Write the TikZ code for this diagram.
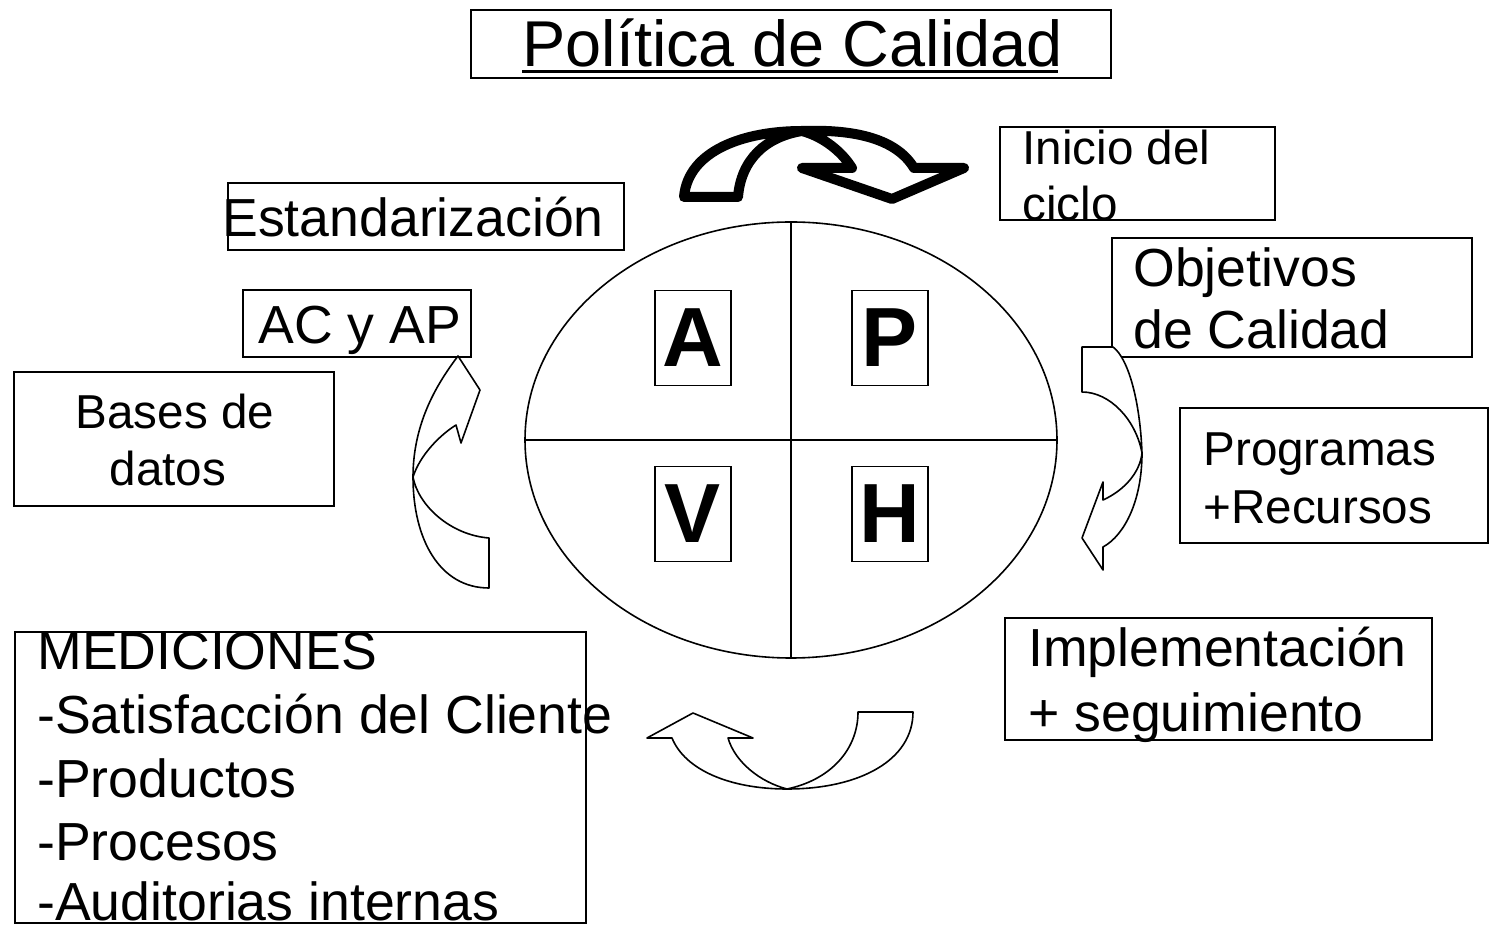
\documentclass[tikz,border=0pt]{standalone}
\usepackage{fontspec}
\setmainfont{Liberation Sans}
\usetikzlibrary{fit,shapes.geometric}
\begin{document}
\begin{tikzpicture}[x=0.5pt,y=-0.5pt,
  box/.style={draw, line width=0.9pt, inner sep=0pt},
  txt/.style={inner sep=0pt, anchor=base west},
  txtc/.style={inner sep=0pt, anchor=base},
  fs/.style={font=\fontsize{23.8}{28}\selectfont},
  fm/.style={font=\fontsize{26.8}{32}\selectfont},
  lbox/.style={draw, line width=0.9pt, inner sep=0pt, minimum width=38pt, minimum height=47.5pt, font=\fontsize{42}{42}\selectfont\bfseries},
  arr/.style={draw, line width=0.8pt, fill=white, line join=round},
  bigarr/.style={draw, line width=5pt, fill=white, line join=round}]
\useasboundingbox (0,0) rectangle (1489,929);

% title
\node[box, fit={(471,10)(1111,78)}] (titlebox) {};
\node[txt, font=\fontsize{32.4}{36}\selectfont] (title) at (522,67) {Política de Calidad};
\draw[line width=1.5pt] (title.base west) ++(0,5) -- ++(536,0);

% cycle
\node[draw, ellipse, line width=0.8pt, minimum width=266pt, minimum height=218pt, inner sep=0pt] (cyc) at (791,440) {};
\draw[line width=0.8pt] (cyc.north) -- (cyc.south);
\draw[line width=0.8pt] (cyc.west) -- (cyc.east);
\node[lbox] (A) at (693,338) {A};
\node[lbox] (P) at (890,338) {P};
\node[lbox] (V) at (693,514) {V};
\node[lbox] (H) at (890,514) {H};

% left side boxes
\node[box, fit={(228,183)(624,250)}] (estbox) {};
\node[txt, fm] (est) at (222,237) {Estandarización};
\node[box, fit={(243,290)(471,357)}] (acbox) {};
\node[txt, fm] (ac) at (258,344) {AC y AP};
\node[box, fit={(14,372)(334,506)}] (basbox) {};
\node[txtc, fs] (bas1) at (175,429) {Bases de};
\node[txtc, fs] (bas2) at (168,486) {datos};
\node[box, fit={(15,632)(586,923)}] (medbox) {};
\node[txt, fm] (med1) at (37,670) {MEDICIONES};
\node[txt, fm] (med2) at (37,734) {-Satisfacción del Cliente};
\node[txt, fm] (med3) at (37,798) {-Productos};
\node[txt, fm] (med4) at (37,861) {-Procesos};
\node[txt, fm] (med5) at (37,921) {-Auditorias internas};

% right side boxes
\node[box, fit={(1000,127)(1275,220)}] (inibox) {};
\node[txt, fs] (ini1) at (1022,165) {Inicio del};
\node[txt, fs] (ini2) at (1022,221) {ciclo};
\node[box, fit={(1112,238)(1472,357)}] (objbox) {};
\node[txt, fm] (obj1) at (1133,287) {Objetivos};
\node[txt, fm] (obj2) at (1133,349) {de Calidad};
\node[box, fit={(1180,408)(1488,543)}] (probox) {};
\node[txt, fs] (pro1) at (1203,466) {Programas};
\node[txt, fs] (pro2) at (1203,524) {+Recursos};
\node[box, fit={(1005,618)(1432,740)}] (impbox) {};
\node[txt, fm] (imp1) at (1028,667) {Implementación};
\node[txt, fm] (imp2) at (1028,732) {+ seguimiento};

% top thick arrow
\path[bigarr] (684,197) -- (738,197)
  .. controls (741,160) and (765,137) .. (802,131)
  .. controls (824,137) and (842,152) .. (852,168)
  -- (802,168) -- (892,199) -- (964,168) -- (914,168)
  .. controls (897,140) and (858,129) .. (802,131)
  .. controls (745,131) and (688,150) .. cycle;

% right arrow
\path[arr] (1082,347) -- (1082,392)
  .. controls (1110,392) and (1136,420) .. (1142,453)
  .. controls (1140,472) and (1125,490) .. (1103,500)
  -- (1103,482) -- (1082,538) -- (1103,570) -- (1103,547)
  .. controls (1125,535) and (1142,500) .. (1142,453)
  .. controls (1140,400) and (1128,358) .. (1113,347) -- cycle;

% bottom arrow
\path[arr] (913,712) -- (858,712)
  .. controls (858,750) and (830,780) .. (787,789)
  .. controls (760,782) and (735,762) .. (728,738)
  -- (753,738) -- (693,713) -- (647,738) -- (672,738)
  .. controls (685,770) and (730,789) .. (787,789)
  .. controls (860,789) and (913,760) .. cycle;

% left arrow
\path[arr] (489,588) -- (489,538)
  .. controls (450,535) and (418,505) .. (413,477)
  .. controls (420,455) and (440,435) .. (456,425)
  -- (461,443) -- (480,390) -- (458,356)
  .. controls (440,380) and (413,420) .. (413,477)
  .. controls (413,540) and (440,588) .. cycle;
\end{tikzpicture}
\end{document}
